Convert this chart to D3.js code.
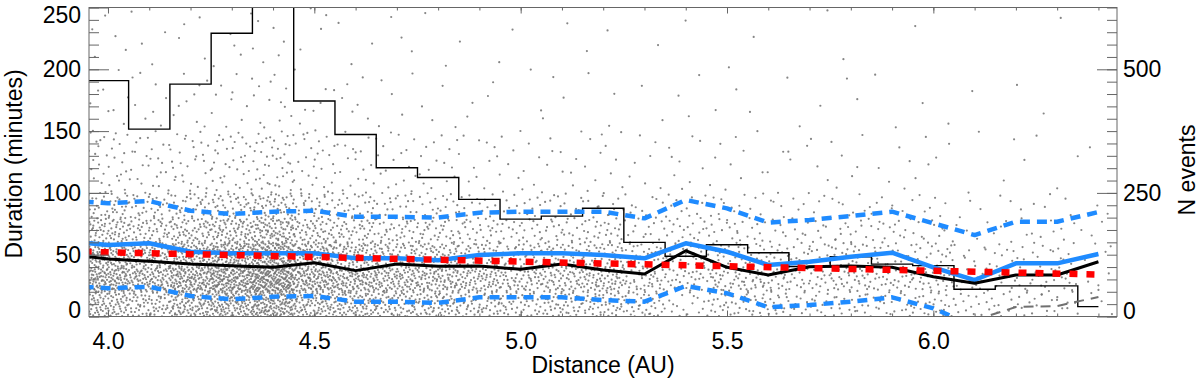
<!DOCTYPE html>
<html>
<head>
<meta charset="utf-8">
<script src="https://cdn.jsdelivr.net/npm/d3@7"></script>
<style>
  body { margin: 0; background: #fff; }
  svg text { font-family: "Liberation Sans", Arial, sans-serif; fill: #000; }
</style>
</head>
<body>
<svg id="chart" width="1200" height="381"></svg>
<script>
// bin centres (AU); 3.9 sits just outside the left edge so the lines reach it
var binX = [3.9, 4.0, 4.1, 4.2, 4.3, 4.4, 4.5, 4.6, 4.7, 4.8, 4.9, 5.0, 5.1,
            5.2, 5.3, 5.4, 5.5, 5.6, 5.7, 5.8, 5.9, 6.0, 6.1, 6.2, 6.3, 6.4];

// duration (minutes) per bin
var meanDur   = [61, 57.8, 59.2, 52.4, 51.1, 51.1, 51.1, 47.1, 47.1, 45.5, 49.8, 51.1, 51.1,
                 49.8, 47.1, 59.2, 52.4, 41.7, 44.3, 48.4, 51.6, 39.8, 29.5, 43.0, 43.0, 50.6];
var medianDur = [50.5, 46.5, 44.8, 42.5, 41.0, 39.8, 43.5, 37.1, 42.5, 40.6, 40.9, 38.2, 42.5,
                 37.6, 34.4, 53.2, 39.8, 33.6, 40.3, 40.9, 39.8, 32.2, 26.9, 33.6, 33.6, 44.3];
var upperDur  = [94, 91.6, 93.4, 85.6, 82.9, 84.8, 85.6, 80.7, 80.7, 80.0, 84.0, 84.8, 84.8,
                 84.8, 79.4, 94.3, 87.5, 76.0, 78.1, 81.3, 84.8, 75.4, 65.9, 76.7, 76.7, 84.5];
var lowerDur  = [25, 22.8, 24.1, 16.6, 13.9, 16.0, 16.6, 12.0, 12.0, 11.0, 15.5, 15.5, 15.5,
                 13.3, 12.0, 24.7, 18.8, 7.5, 9.3, 12.0, 15.5, 6.6, -8];

// fitted trend (red) and the grey tail at the far right
var fitX = [3.9, 5.15, 6.4];
var fitDur = [52.7, 43.3, 34.0];
var tailX = [6.1, 6.2, 6.3, 6.4];
var tailDur = [-3, 7.7, 8.5, 15.8];

// N events per bin (right axis)
var nEvents = [480, 477, 379, 470, 573, 700, 436, 368, 301, 281, 237, 197, 203,
               219, 150, 122, 145, 129, 101, 121, 106, 103, 55, 62, 62, 20];

// scatter: approx. number of events per cell
// columns = 0.1 AU bins centred on 4.0 .. 6.4, rows = duration bands below
var cellX = [4.0, 4.1, 4.2, 4.3, 4.4, 4.5, 4.6, 4.7, 4.8, 4.9, 5.0, 5.1, 5.2,
             5.3, 5.4, 5.5, 5.6, 5.7, 5.8, 5.9, 6.0, 6.1, 6.2, 6.3, 6.4];
var bandEdges = [0, 20, 40, 60, 80, 100, 150, 200, 250];
var cellCounts = [
  [81, 129, 105, 62, 38, 32, 10, 5],
  [64, 102, 83, 49, 30, 26, 8, 4],
  [94, 136, 99, 56, 33, 28, 9, 4],
  [115, 166, 120, 69, 40, 34, 10, 5],
  [140, 203, 147, 84, 49, 42, 12, 6],
  [87, 126, 92, 52, 31, 26, 8, 4],
  [81, 110, 74, 40, 24, 20, 6, 3],
  [66, 90, 60, 33, 20, 16, 5, 3],
  [62, 84, 56, 31, 18, 15, 4, 2],
  [52, 71, 47, 26, 15, 12, 4, 2],
  [43, 59, 39, 22, 13, 10, 3, 1],
  [45, 61, 41, 22, 13, 10, 3, 1],
  [48, 66, 44, 24, 14, 11, 3, 2],
  [38, 45, 29, 15, 9, 7, 2, 1],
  [16, 31, 29, 18, 11, 9, 3, 1],
  [29, 42, 30, 17, 10, 8, 2, 1],
  [32, 39, 25, 13, 8, 6, 2, 1],
  [20, 29, 21, 12, 7, 5, 2, 1],
  [24, 35, 25, 15, 8, 6, 2, 1],
  [21, 31, 22, 13, 7, 5, 2, 0],
  [26, 31, 20, 10, 6, 5, 2, 1],
  [16, 17, 10, 5, 3, 2, 1, 0],
  [15, 19, 12, 6, 4, 3, 1, 0],
  [15, 19, 12, 6, 4, 3, 1, 1],
  [3, 6, 4, 3, 2, 1, 0, 0]
];

var xTicks = [4.0, 4.5, 5.0, 5.5, 6.0];
var yTicks = [0, 50, 100, 150, 200, 250];
var nTicks = [0, 250, 500];

// plot box (window.top is reserved, hence the prefixes)
var boxL = 89, boxR = 1117, boxT = 7.5, boxB = 316.5;
var svg = d3.select("#chart");

var x = d3.scaleLinear().domain([3.954, 6.445]).range([boxL, boxR]);
var y = d3.scaleLinear().domain([0, 250]).range([boxB, boxT]);
var yN = d3.scaleLinear().domain([0, 625]).range([boxB, boxT]);

svg.append("clipPath").attr("id", "plotclip")
    .append("rect")
    .attr("x", boxL).attr("y", boxT)
    .attr("width", boxR - boxL).attr("height", boxB - boxT);

var plot = svg.append("g").attr("clip-path", "url(#plotclip)");

// spread the dots of each cell evenly (Halton layout)
function halton(i, b) {
    var f = 1, r = 0;
    while (i > 0) {
        f = f / b;
        r += f * (i % b);
        i = Math.floor(i / b);
    }
    return r;
}

var dots = [];
for (let c = 0; c < cellX.length; c++) {
    for (let r = 0; r < bandEdges.length - 1; r++) {
        var n = cellCounts[c][r];
        var start = c * 211 + r * 53 + 1;
        for (let k = 0; k < n; k++) {
            dots.push({
                d: cellX[c] - 0.05 + 0.1 * halton(start + k, 2),
                t: bandEdges[r] + (bandEdges[r + 1] - bandEdges[r]) * halton(start + k, 3)
            });
        }
    }
}

plot.append("g").selectAll("circle")
    .data(dots)
    .enter()
    .append("circle")
    .attr("cx", d => x(d.d))
    .attr("cy", d => y(d.t))
    .attr("r", 1.1)
    .style("fill", "#707070")
    .style("opacity", 0.85);

// histogram of event numbers
var histLine = d3.line()
    .x((d, i) => x(binX[i]))
    .y(d => yN(d))
    .curve(d3.curveStep);

plot.append("path")
    .attr("d", histLine(nEvents))
    .style("fill", "none")
    .style("stroke", "#000")
    .style("stroke-width", 1.4);

function durLine(xs) {
    return d3.line()
        .x((d, i) => x(xs[i]))
        .y(d => y(d));
}

function drawSeries(xs, vals, colour, width, dash) {
    var p = plot.append("path")
        .attr("d", durLine(xs)(vals))
        .style("fill", "none")
        .style("stroke", colour)
        .style("stroke-width", width)
        .style("stroke-linejoin", "round");
    if (dash) p.style("stroke-dasharray", dash);
}

var blue = "#1f8bff";
drawSeries(binX, upperDur, blue, 4.5, "10,7");
drawSeries(binX.slice(0, lowerDur.length), lowerDur, blue, 4.5, "10,7");
drawSeries(binX, meanDur, blue, 4.5, null);
drawSeries(binX, medianDur, "#000", 3, null);
drawSeries(fitX, fitDur, "#ff0000", 6.5, "8,9");
drawSeries(tailX, tailDur, "#707070", 2, "10,7");

// frame
svg.append("rect")
    .attr("x", boxL).attr("y", boxT)
    .attr("width", boxR - boxL).attr("height", boxB - boxT)
    .style("fill", "none")
    .style("stroke", "#666")
    .style("stroke-width", 1);

var tickColour = "#666";

function styleAxis(g) {
    g.select(".domain").remove();
    g.selectAll("line").style("stroke", tickColour);
    g.selectAll("text")
        .style("font-family", "Liberation Sans, Arial, sans-serif")
        .style("font-size", "23px")
        .style("fill", "#000");
}

var minorX = d3.range(40, 65).map(d => d / 10);
var minorY = d3.range(0, 251, 10);
var minorN = d3.range(0, 626, 25);

// bottom
svg.append("g").attr("transform", "translate(0," + boxB + ")")
    .call(d3.axisBottom(x).tickValues(minorX).tickSize(-3).tickFormat(""))
    .call(styleAxis);
svg.append("g").attr("transform", "translate(0," + boxB + ")")
    .call(d3.axisBottom(x).tickValues(xTicks).tickSize(-6).tickPadding(16)
        .tickFormat(d3.format(".1f")))
    .call(styleAxis);
// top
svg.append("g").attr("transform", "translate(0," + boxT + ")")
    .call(d3.axisTop(x).tickValues(minorX).tickSize(-3).tickFormat(""))
    .call(styleAxis);
svg.append("g").attr("transform", "translate(0," + boxT + ")")
    .call(d3.axisTop(x).tickValues(xTicks).tickSize(-6).tickFormat(""))
    .call(styleAxis);
// left
svg.append("g").attr("transform", "translate(" + boxL + ",0)")
    .call(d3.axisLeft(y).tickValues(minorY).tickSize(-10).tickFormat(""))
    .call(styleAxis);
var yAx = svg.append("g").attr("transform", "translate(" + boxL + ",0)")
    .call(d3.axisLeft(y).tickValues(yTicks).tickSize(-20).tickPadding(8).tickFormat(d3.format("d")))
    .call(styleAxis);
// right
svg.append("g").attr("transform", "translate(" + boxR + ",0)")
    .call(d3.axisRight(yN).tickValues(minorN).tickSize(-10).tickFormat(""))
    .call(styleAxis);
var nAx = svg.append("g").attr("transform", "translate(" + boxR + ",0)")
    .call(d3.axisRight(yN).tickValues(nTicks).tickSize(-20).tickPadding(6).tickFormat(d3.format("d")))
    .call(styleAxis);

// keep the end labels inside the frame, as in the original
yAx.selectAll(".tick text").attr("y", d => d == 250 ? 7.5 : (d == 0 ? -6.5 : 0));
nAx.selectAll(".tick text").attr("y", d => d == 0 ? -5.5 : 0);

svg.append("text")
    .attr("x", (boxL + boxR) / 2)
    .attr("y", 373)
    .attr("text-anchor", "middle")
    .style("font-size", "23px")
    .text("Distance (AU)");

svg.append("text")
    .attr("transform", "translate(22,164) rotate(-90)")
    .attr("text-anchor", "middle")
    .style("font-size", "23px")
    .text("Duration (minutes)");

svg.append("text")
    .attr("transform", "translate(1195,170) rotate(-90)")
    .attr("text-anchor", "middle")
    .style("font-size", "23px")
    .text("N events");
</script>
</body>
</html>
